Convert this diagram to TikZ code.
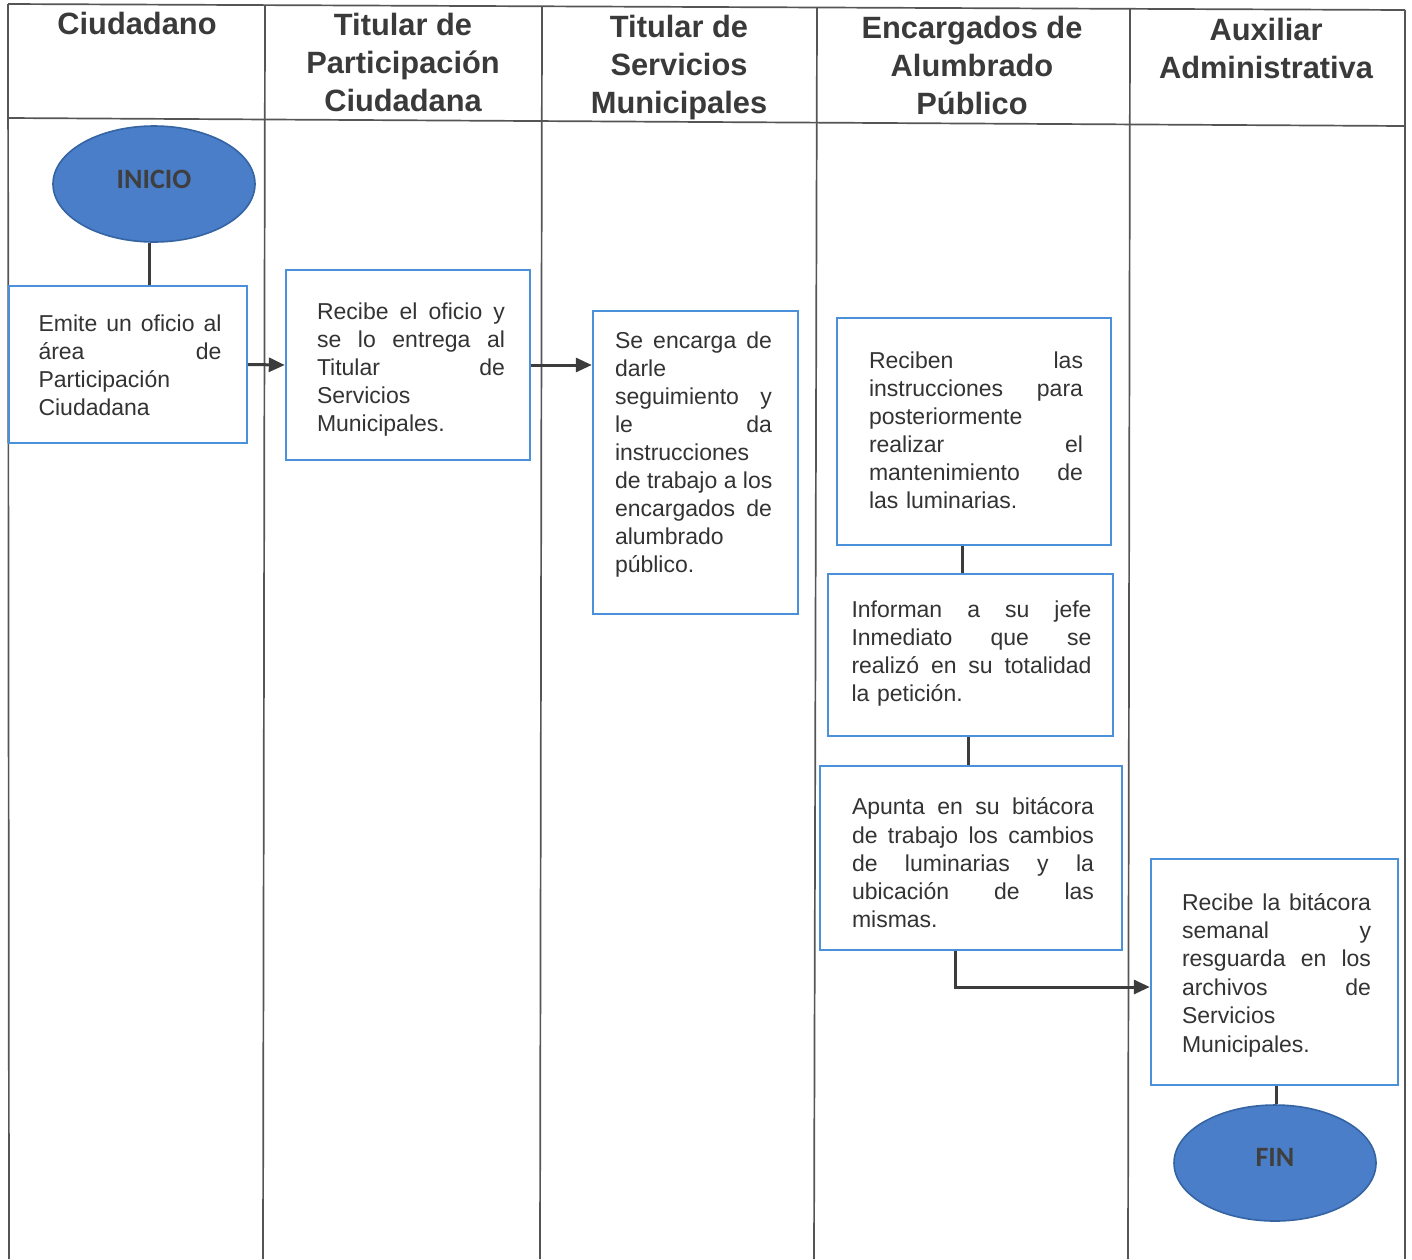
\documentclass[tikz,border=0pt]{standalone}
\usepackage{fontspec}
\setmainfont{Liberation Sans}
\newfontfamily\ovalfont{Carlito}
\usetikzlibrary{shapes.geometric,arrows.meta}

\definecolor{gridline}{HTML}{555555}
\definecolor{boxblue}{HTML}{4A90DA}
\definecolor{ovalfill}{HTML}{4A7EC8}
\definecolor{ovaledge}{HTML}{3564A3}
\definecolor{ink}{HTML}{333333}
\definecolor{headink}{HTML}{3A3A3A}
\definecolor{termink}{HTML}{3F3F3F}
\definecolor{flow}{HTML}{3C3C3C}

% width of the justified lines in the current step text
\newlength\jw
% one fully justified line of a step text
\newcommand\jl[1]{\leavevmode\hbox to\jw{\spaceskip=.28em plus 1fill\relax#1}\\}

\begin{document}
\begin{tikzpicture}[x=1pt,y=-1pt,
  grid/.style={draw=gridline,line width=1.7pt},
  head/.style={font=\fontsize{30.8}{38}\selectfont\bfseries,text=headink,align=center,inner sep=0pt},
  stepbox/.style={draw=boxblue,line width=2.4pt,fill=white,inner sep=0pt},
  steptext/.style={font=\fontsize{23}{28}\selectfont,text=ink,align=left,inner sep=0pt},
  terminal/.style={ellipse,draw=ovaledge,line width=1.6pt,fill=ovalfill,inner sep=0pt,
    minimum width=202pt,minimum height=116pt,font=\ovalfont\bfseries\fontsize{28}{32}\selectfont,text=termink},
  flowline/.style={draw=flow,line width=3pt},
  flowarrow/.style={flowline,-{Triangle[length=16pt,width=14pt]}}]

\useasboundingbox[fill=white] (0,0) rectangle (1412,1259);

% swimlane table
\draw[grid] (8,4) -- (1405,10);
\draw[grid] (8,118) -- (1405,126);
\draw[grid] (8,4) -- (9,1259);
\draw[grid] (265,6) -- (263,1259);
\draw[grid] (542,7) -- (540,1259);
\draw[grid] (817,8) -- (814,1259);
\draw[grid] (1130,9) -- (1128,1259);
\draw[grid] (1405,10) -- (1405,1259);

% lane headers
\node[head] (h1) at (137,23) {Ciudadano};
\node[head] (h2) at (403,62) {Titular de\\Participación\\Ciudadana};
\node[head] (h3) at (679,68) {Titular de\\Servicios\\Municipales};
\node[head] (h4) at (972,65) {Encargados de\\Alumbrado\\Público};
\node[head] (h5) at (1266,48) {Auxiliar\\Administrativa};

% start / end
\node[terminal] (inicio) at (154,184) {\raisebox{10pt}{INICIO}};
\node[terminal] (fin) at (1275,1163) {\raisebox{12pt}{FIN}};

% process steps: frame, then its text
\node[stepbox,minimum width=238pt,minimum height=157pt] (emite) at (128,364.5) {};
\node[steptext,text width=183pt] (emitetxt) at ([xshift=2pt,yshift=-1pt]emite.center)
  {\jw=183pt\jl{Emite un oficio al}\jl{área de}Participación\\Ciudadana};

\node[stepbox,minimum width=244pt,minimum height=190pt] (recibe) at (408,365) {};
\node[steptext,text width=188pt] (recibetxt) at ([xshift=3pt,yshift=-5pt]recibe.center)
  {\jw=188pt\jl{Recibe el oficio y}\jl{se lo entrega al}\jl{Titular de}Servicios\\Municipales.};

\node[stepbox,minimum width=205pt,minimum height=303pt] (encarga) at (695.5,462.5) {};
\node[steptext,text width=157pt] (encargatxt) at ([xshift=-2pt,yshift=8pt]encarga.center)
  {\jw=157pt\jl{Se encarga de}darle\\\jl{seguimiento y}\jl{le da}instrucciones\\\jl{de trabajo a los}\jl{encargados de}alumbrado\\público.};

\node[stepbox,minimum width=274pt,minimum height=227pt] (reciben) at (974,431.5) {};
\node[steptext,text width=214pt] (recibentxt) at ([xshift=2pt,yshift=1pt]reciben.center)
  {\jw=214pt\jl{Reciben las}\jl{instrucciones para}posteriormente\\\jl{realizar el}\jl{mantenimiento de}las luminarias.};

\node[stepbox,minimum width=285pt,minimum height=162pt] (informan) at (970.5,655) {};
\node[steptext,text width=240pt] (informantxt) at ([xshift=1pt,yshift=1pt]informan.center)
  {\jw=240pt\jl{Informan a su jefe}\jl{Inmediato que se}\jl{realizó en su totalidad}la petición.};

\node[stepbox,minimum width=302pt,minimum height=184pt] (apunta) at (971,858) {};
\node[steptext,text width=242pt,font=\fontsize{23}{28.3}\selectfont] (apuntatxt) at ([xshift=2pt,yshift=-5pt]apunta.center)
  {\jw=242pt\jl{Apunta en su bitácora}\jl{de trabajo los cambios}\jl{de luminarias y la}\jl{ubicación de las}mismas.};

\node[stepbox,minimum width=247pt,minimum height=226pt] (bitacora) at (1274.5,972) {};
\node[steptext,text width=189pt,font=\fontsize{23}{28.4}\selectfont] (bitacoratxt) at ([xshift=2pt,yshift=-3pt]bitacora.center)
  {\jw=189pt\jl{Recibe la bitácora}\jl{semanal y}\jl{resguarda en los}\jl{archivos de}Servicios\\Municipales.};

% connectors
\draw[flowline] ([xshift=-5pt]inicio.south) -- ([xshift=-5pt]inicio.south |- emite.north);
\draw[flowarrow] (emite.east) -- (recibe.west);
\draw[flowarrow] (recibe.east) -- (recibe.east -| encarga.west);
\draw[flowline] ([xshift=-12pt]reciben.south) -- ([xshift=-12pt]reciben.south |- informan.north);
\draw[flowline] ([xshift=-2pt]informan.south) -- ([xshift=-2pt]informan.south |- apunta.north);
\draw[flowarrow] ([xshift=-16pt]apunta.south) |- ([yshift=-15pt]bitacora.west);
\draw[flowline] ([xshift=2pt]bitacora.south) -- ([xshift=2pt]bitacora.south |- fin.north);
\end{tikzpicture}
\end{document}
